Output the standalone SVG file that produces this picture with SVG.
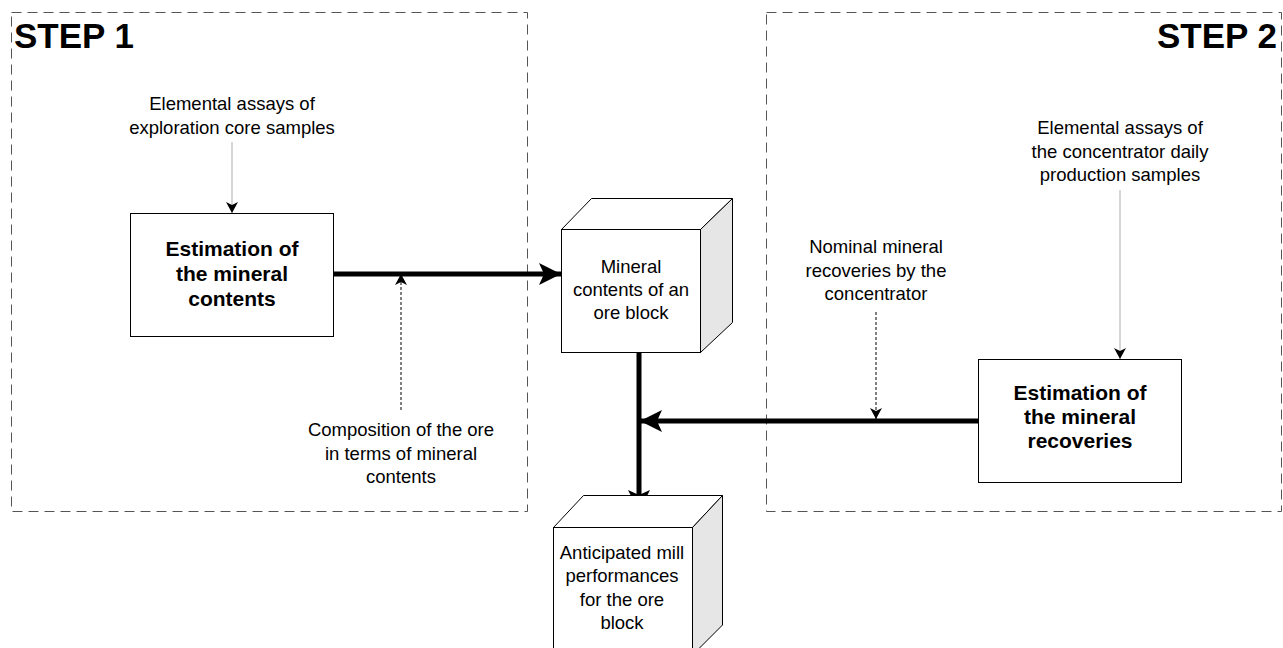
<svg xmlns="http://www.w3.org/2000/svg" width="1283" height="648" viewBox="0 0 1283 648">
<defs>
<style>
text{font-family:"Liberation Sans",Arial,sans-serif;fill:#000}
.t{font-size:18.5px;text-anchor:middle}
.b{font-size:21px;font-weight:bold;text-anchor:middle}
.step{font-size:35px;font-weight:bold}
.frame{fill:none;stroke:#555;stroke-width:1;stroke-dasharray:10,6}
.box{fill:#fff;stroke:#000;stroke-width:1}
.side{fill:#e6e6e6;stroke:#000;stroke-width:1}
.top{fill:#fff;stroke:#000;stroke-width:1}
.thick{stroke:#000;stroke-width:5;fill:none}
.grey{stroke:#c8c8c8;stroke-width:1.5;fill:none}
.dot{stroke:#000;stroke-width:1;stroke-dasharray:3,2;fill:none}
</style>
<marker id="bigh" markerWidth="24" markerHeight="22" refX="22" refY="11" orient="auto" markerUnits="userSpaceOnUse"><path d="M0,0 L22,11 L0,22 L5,11 Z" fill="#000"/></marker>
<marker id="sm" markerWidth="12" markerHeight="12" refX="11" refY="6" orient="auto" markerUnits="userSpaceOnUse"><path d="M0,0 L11,6 L0,12 L3,6 Z" fill="#000"/></marker>
</defs>
<g id="step1">
<rect class="frame" x="11.5" y="12.5" width="516" height="499"/>
<text class="step" x="14" y="48">STEP 1</text>
</g>
<g id="step2">
<rect class="frame" x="766.5" y="12.5" width="515" height="499"/>
<text class="step" x="1277" y="48" text-anchor="end">STEP 2</text>
</g>
<g id="connectors">
<line class="grey" x1="232" y1="142" x2="232" y2="213" marker-end="url(#sm)"/>
<line class="grey" x1="1120" y1="190" x2="1120" y2="359" marker-end="url(#sm)"/>
<line class="thick" x1="333" y1="274" x2="561" y2="274" marker-end="url(#bigh)"/>
<line class="dot" x1="401" y1="410" x2="401" y2="274" marker-end="url(#sm)"/>
<line class="thick" x1="978" y1="421" x2="640" y2="421" marker-end="url(#bigh)"/>
<line class="dot" x1="876" y1="312" x2="876" y2="419" marker-end="url(#sm)"/>
<line class="thick" x1="639" y1="352" x2="639" y2="512" marker-end="url(#bigh)"/>
</g>
<g id="label-assays1">
<text class="t" x="232" y="110">Elemental assays of</text>
<text class="t" x="232" y="134">exploration core samples</text>
</g>
<g id="est-contents">
<rect class="box" x="130.5" y="213.5" width="203" height="123"/>
<text class="b" x="232" y="256">Estimation of</text>
<text class="b" x="232" y="281">the mineral</text>
<text class="b" x="232" y="306">contents</text>
</g>
<g id="label-composition">
<text class="t" x="401" y="436">Composition of the ore</text>
<text class="t" x="401" y="460">in terms of mineral</text>
<text class="t" x="401" y="483">contents</text>
</g>
<g id="cube-contents">
<path class="top" d="M561.5,229.5 L591.5,198.5 L732.5,198.5 L700.5,229.5 Z"/>
<path class="side" d="M700.5,229.5 L732.5,198.5 L732.5,322.5 L700.5,352.5 Z"/>
<rect class="box" x="561.5" y="229.5" width="139" height="123"/>
<text class="t" x="631" y="273">Mineral</text>
<text class="t" x="631" y="296">contents of an</text>
<text class="t" x="631" y="319">ore block</text>
</g>
<g id="label-nominal">
<text class="t" x="876" y="253">Nominal mineral</text>
<text class="t" x="876" y="277">recoveries by the</text>
<text class="t" x="876" y="300">concentrator</text>
</g>
<g id="label-assays2">
<text class="t" x="1120" y="134">Elemental assays of</text>
<text class="t" x="1120" y="158">the concentrator daily</text>
<text class="t" x="1120" y="181">production samples</text>
</g>
<g id="est-recoveries">
<rect class="box" x="978.5" y="359.5" width="203" height="123"/>
<text class="b" x="1080" y="400">Estimation of</text>
<text class="b" x="1080" y="424">the mineral</text>
<text class="b" x="1080" y="448">recoveries</text>
</g>
<g id="cube-performance">
<path class="top" d="M553.5,527.5 L583.5,495.5 L722.5,495.5 L692.5,527.5 Z"/>
<path class="side" d="M692.5,527.5 L722.5,495.5 L722.5,625 L692.5,655 Z"/>
<rect class="box" x="553.5" y="527.5" width="139" height="130"/>
<text class="t" x="622" y="559">Anticipated mill</text>
<text class="t" x="622" y="582">performances</text>
<text class="t" x="622" y="606">for the ore</text>
<text class="t" x="622" y="629">block</text>
</g>
</svg>
